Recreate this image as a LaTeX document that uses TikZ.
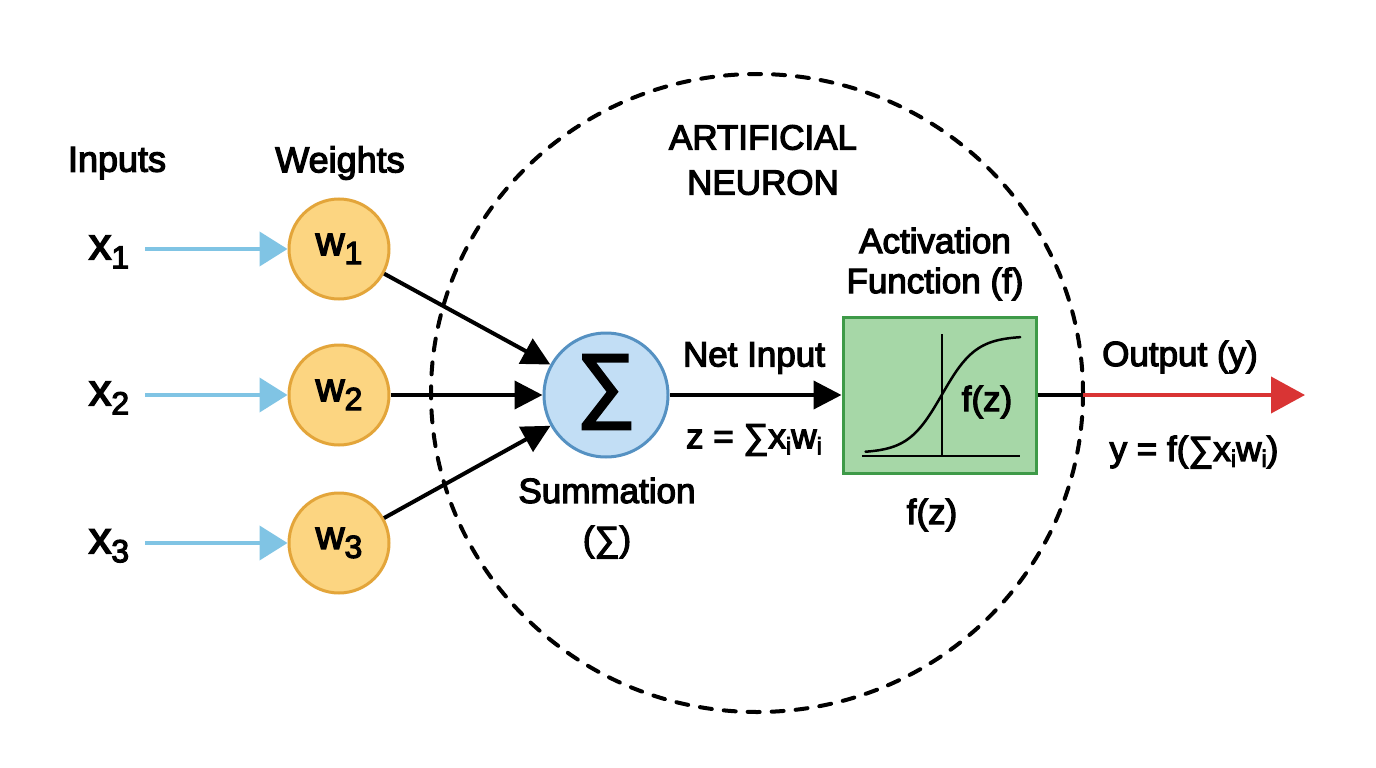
\documentclass[tikz,border=0pt]{standalone}
\usepackage{fontspec}
\setmainfont{Liberation Sans}[FakeBold=3.5]
\usetikzlibrary{arrows.meta}
\definecolor{wfill}{HTML}{FCD581}
\definecolor{wborder}{HTML}{E3A53A}
\definecolor{sfill}{HTML}{C2DEF5}
\definecolor{sborder}{HTML}{5591C2}
\definecolor{gfill}{HTML}{A6D7A7}
\definecolor{gborder}{HTML}{3E9A48}
\definecolor{inblue}{HTML}{80C4E4}
\definecolor{outred}{HTML}{D93434}
\newcommand{\fs}[1]{\fontsize{#1}{#1}\selectfont}
\newcommand{\lsub}[3]{\raisebox{-#2pt}{\fontsize{#1}{#1}\selectfont #3}}
\begin{document}
\begin{tikzpicture}[x=1pt,y=-1pt,
  lbl/.style={inner sep=0pt, align=center, font=\fontsize{35}{40}\selectfont},
  wnode/.style={circle, draw=wborder, fill=wfill, line width=3pt, minimum size=100pt, inner sep=0pt, font=\fs{40}},
  inarrow/.style={draw=inblue, line width=4pt, -{Triangle[length=28pt,width=34pt]}},
  blk/.style={draw=black, line width=4pt, -{Triangle[length=28pt,width=28pt]}},
]
\useasboundingbox (0,0) rectangle (1376,768);
\fill[white] (0,0) rectangle (1376,768);

% dashed neuron boundary
\draw[line width=4pt, line cap=round, dash pattern=on 12pt off 12pt] (757,393) ellipse [x radius=326, y radius=319];

% headings
\node[lbl, font=\fs{36}] (inputs) at (117,163) {Inputs};
\node[lbl, font=\fs{36}] (weights) at (340,163) {Weights};
\node[lbl, font=\fontsize{35}{45}\selectfont] (title) at (763,160) {ARTIFICIAL\\NEURON};

% inputs
\node[inner sep=0pt, font=\fs{45}] (x1) at (109,252) {x\lsub{32}{9}{1}};
\node[inner sep=0pt, font=\fs{45}] (x2) at (109,398) {x\lsub{32}{9}{2}};
\node[inner sep=0pt, font=\fs{45}] (x3) at (109,546) {x\lsub{32}{9}{3}};

% weights
\node[wnode] (w1) at (339,249) {w\lsub{32}{9}{1}};
\node[wnode] (w2) at (339,395) {w\lsub{32}{9}{2}};
\node[wnode] (w3) at (339,543) {w\lsub{32}{9}{3}};

\coordinate (a1) at (145,249);
\coordinate (a2) at (145,395);
\coordinate (a3) at (145,543);
\draw[inarrow] (a1) -- (w1);
\draw[inarrow] (a2) -- (w2);
\draw[inarrow] (a3) -- (w3);

% summation
\node[circle, draw=sborder, fill=sfill, line width=3pt, minimum size=124pt, inner sep=0pt] (sum) at (606,395) {};
\node[inner sep=0pt, font=\fs{82}] (sigma) at (606,392) {∑};
\draw[blk] (w1) -- (sum);
\draw[blk] (w2) -- (sum);
\draw[blk] (w3) -- (sum);

\node[lbl, font=\fontsize{35}{48}\selectfont] (sumlbl) at (607,518) {Summation\\(∑)};

% activation box
\node[draw=gborder, fill=gfill, line width=3pt, minimum width=193pt, minimum height=156pt, inner sep=0pt] (act) at (939.5,395) {};
\draw[blk] (sum) -- (act);
\node[lbl] (netin) at (754,358) {Net Input};
\node[lbl] (zeq) at (754,440) {z = ∑x\lsub{24}{6}{i}w\lsub{24}{6}{i}};

% sigmoid inside box
\coordinate (ax0) at (862,456);
\coordinate (ax1) at (1020,456);
\coordinate (ay0) at (942,456);
\coordinate (ay1) at (942,334);
\draw[line width=1.5pt] (ax0) -- (ax1);
\draw[line width=1.5pt] (ay0) -- (ay1);
\draw[line width=2.5pt, line cap=round] plot[domain=-4.5:4.6, samples=60, smooth] ({942+17*\x},{453-117/(1+exp(-\x))});
\node[lbl] (fzin) at (987,402) {f(z)};

\node[lbl, font=\fontsize{35}{40}\selectfont] (actlbl) at (935,264) {Activation\\Function (f)};
\node[lbl] (fzout) at (932,515) {f(z)};

% output
\coordinate (cross) at (1083,395);
\coordinate (outend) at (1305,395);
\draw[line width=4pt] (act) -- (cross);
\draw[draw=outred, line width=4pt, -{Triangle[length=34pt,width=36pt]}] (cross) -- (outend);
\node[lbl] (outlbl) at (1180,357) {Output (y)};
\node[lbl] (yeq) at (1194,452) {y = f(∑x\lsub{24}{6}{i}w\lsub{24}{6}{i})};
\end{tikzpicture}
\end{document}
